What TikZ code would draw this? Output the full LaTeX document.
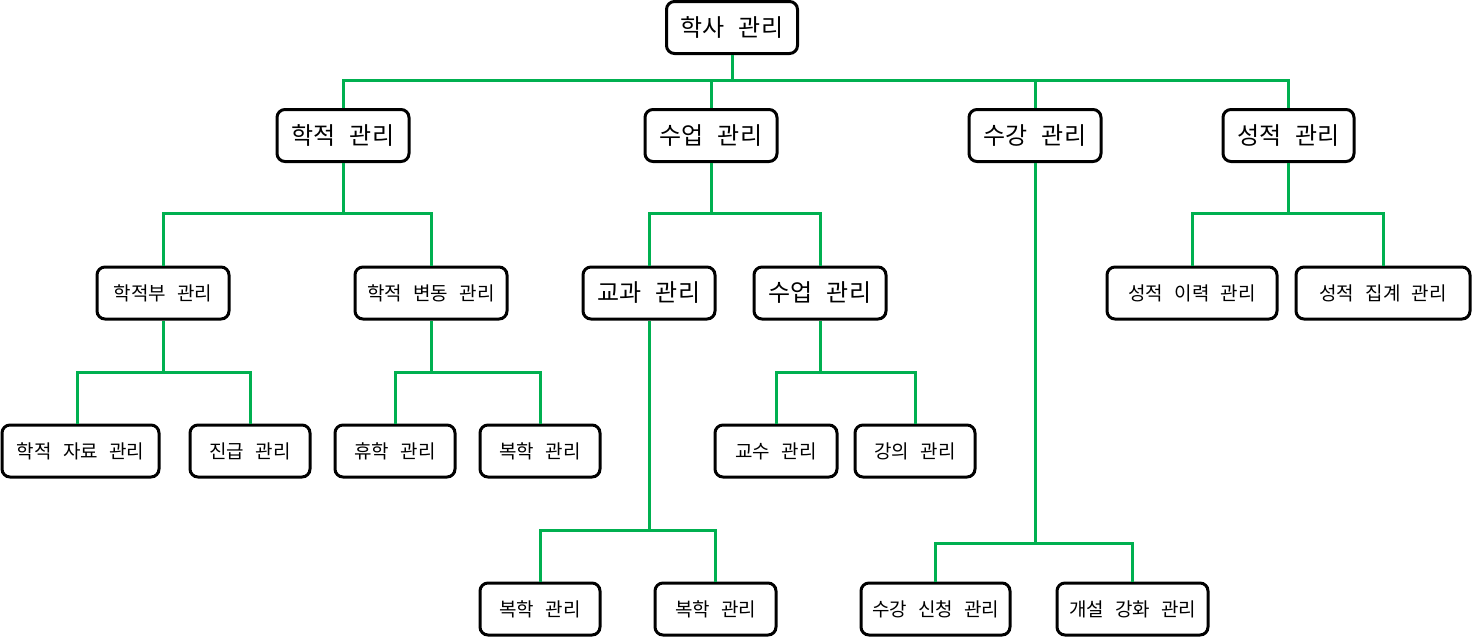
\documentclass[tikz,border=0pt]{standalone}
\usepackage{fontspec}
\setmainfont[WordSpace=2.6]{Noto Sans CJK KR}
\begin{document}
\begin{tikzpicture}[x=1pt,y=-1pt,
  box/.style={draw=black, line width=3pt, rounded corners=8pt, fill=white,
    minimum height=52pt, inner sep=0pt, anchor=center},
  big/.style={box, font=\fontsize{24}{28}\selectfont},
  small/.style={box, font=\fontsize{19}{22}\selectfont},
  conn/.style={color={rgb,255:red,0;green,176;blue,80}, line width=3pt}]
\useasboundingbox (0,0) rectangle (1472,637);
% level 0
\node[big, minimum width=131pt] (root) at (732,27.5) {학사 관리};
% level 1
\node[big, minimum width=132pt] (a) at (343,135.5) {학적 관리};
\node[big, minimum width=132pt] (b) at (711,135.5) {수업 관리};
\node[big, minimum width=132pt] (c) at (1035,135.5) {수강 관리};
\node[big, minimum width=131pt] (d) at (1288.5,135.5) {성적 관리};
% level 2
\node[small, minimum width=132pt] (a1) at (163,293) {학적부 관리};
\node[small, minimum width=152pt] (a2) at (431,293) {학적 변동 관리};
\node[big, minimum width=132pt] (b1) at (649,293) {교과 관리};
\node[big, minimum width=132pt] (b2) at (820,293) {수업 관리};
\node[small, minimum width=170pt] (d1) at (1192,293) {성적 이력 관리};
\node[small, minimum width=174pt] (d2) at (1383,293) {성적 집계 관리};
% level 3
\node[small, minimum width=157pt] (a11) at (80.5,451) {학적 자료 관리};
\node[small, minimum width=120pt] (a12) at (250,451) {진급 관리};
\node[small, minimum width=120pt] (a21) at (395,451) {휴학 관리};
\node[small, minimum width=120pt] (a22) at (540,451) {복학 관리};
\node[small, minimum width=122pt] (b21) at (776,451) {교수 관리};
\node[small, minimum width=120pt] (b22) at (915,451) {강의 관리};
% level 4
\node[small, minimum width=120pt] (b11) at (540,609) {복학 관리};
\node[small, minimum width=121pt] (b12) at (715.5,609) {복학 관리};
\node[small, minimum width=149pt] (c1) at (935.5,609) {수강 신청 관리};
\node[small, minimum width=151pt] (c2) at (1132.5,609) {개설 강화 관리};
% bus coordinates
\coordinate (r0) at (732,80);
\coordinate (ra) at (343,213);
\coordinate (rb) at (711,213);
\coordinate (rd) at (1288.5,213);
\coordinate (ra1) at (163,372);
\coordinate (ra2) at (431,372);
\coordinate (rb2) at (820,372);
\coordinate (rb1) at (649,530);
\coordinate (rc) at (1035,543);
% connectors
\draw[conn] (root.south) -- (r0);
\draw[conn] (a.north) |- (r0) -| (d.north);
\draw[conn] (b.north) -- (b.north |- r0);
\draw[conn] (c.north) -- (c.north |- r0);
\draw[conn] (a.south) -- (ra);
\draw[conn] (a1.north) |- (ra) -| (a2.north);
\draw[conn] (b.south) -- (rb);
\draw[conn] (b1.north) |- (rb) -| (b2.north);
\draw[conn] (d.south) -- (rd);
\draw[conn] (d1.north) |- (rd) -| (d2.north);
\draw[conn] (a1.south) -- (ra1);
\draw[conn] ([xshift=-3.5pt]a11.north) |- (ra1) -| (a12.north);
\draw[conn] (a2.south) -- (ra2);
\draw[conn] (a21.north) |- (ra2) -| (a22.north);
\draw[conn] (b2.south) -- (rb2);
\draw[conn] (b21.north) |- (rb2) -| (b22.north);
\draw[conn] (b1.south) -- (rb1);
\draw[conn] (b11.north) |- (rb1) -| (b12.north);
\draw[conn] (c.south) -- (rc);
\draw[conn] (c1.north) |- (rc) -| (c2.north);
\end{tikzpicture}
\end{document}
